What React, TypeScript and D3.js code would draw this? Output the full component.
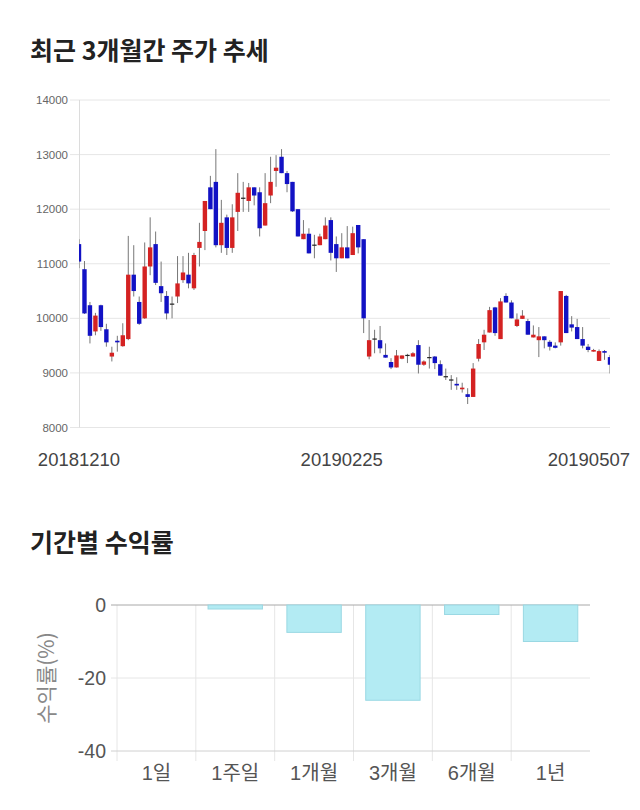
import React from 'react';
import * as d3 from 'd3';

// price data, one entry per trading day (2018-12-10 .. 2019-05-07)
const opens = [
  11360, 10900, 10240, 9760, 10240, 9800, 9300, 9590, 9490, 9620,
  10800, 10300, 10000, 10950, 11360, 10590, 10410, 10260, 10400, 10700,
  10800, 10550, 11290, 11600, 12400, 12500, 11340, 11850, 11290, 11950,
  12200, 12150, 12400, 12310, 11700, 12250, 12700, 12960, 12660, 12500,
  12000, 11450, 11550, 11340, 11340, 11450, 11800, 11360, 11100, 11300,
  11160, 11710, 11450, 9300, 9620, 9600, 9330, 9200, 9100, 9260,
  9320, 9300, 9510, 9150, 9280, 9300, 9160, 8930, 8870, 8800,
  8700, 8610, 8560, 9260, 9560, 9740, 10200, 9620, 10410, 10290,
  9860, 9990, 9950, 9650, 9600, 9670, 9570, 9500, 9560, 10410,
  9890, 9840, 9620, 9480, 9390, 9220, 9400, 9290,
];
const highs = [
  11450, 11050, 10300, 10100, 10250, 9900, 9480, 9680, 9910, 11510,
  11340, 10400, 11390, 11850, 11590, 11040, 10500, 10400, 11140, 11140,
  11200, 11200, 11750, 12150, 12610, 13100, 12170, 11900, 12090, 12660,
  12500, 12480, 12400, 12400, 12660, 12960, 12990, 13100, 12700, 12500,
  12000, 11800, 11650, 11530, 11550, 11850, 11850, 11500, 11560, 11690,
  11680, 11710, 11450, 9970, 9790, 9860, 9540, 9270, 9420, 9320,
  9350, 9380, 9600, 9230, 9480, 9310, 9230, 9080, 8960, 8920,
  8820, 8720, 9180, 9620, 9790, 10210, 10210, 10370, 10460, 10330,
  10090, 10150, 9990, 9870, 9840, 9670, 9600, 9560, 10500, 10430,
  10040, 9990, 9840, 9530, 9440, 9430, 9420, 9330,
];
const lows = [
  10920, 10080, 9540, 9690, 9770, 9480, 9210, 9390, 9480, 9600,
  10400, 9880, 9990, 10790, 10610, 10300, 9980, 10000, 10280, 10650,
  10550, 10520, 10950, 11250, 12000, 11300, 11200, 11160, 11200, 11600,
  11950, 11950, 12070, 11500, 11700, 12110, 12410, 12660, 12310, 11950,
  11500, 11450, 11190, 11100, 11340, 11450, 11060, 10850, 11100, 11100,
  11160, 11190, 9730, 9250, 9360, 9360, 9280, 9070, 9100, 9250,
  9180, 9300, 8990, 9130, 9080, 9070, 8950, 8870, 8690, 8690,
  8640, 8430, 8560, 9210, 9420, 9740, 9680, 9620, 10290, 10000,
  9840, 9990, 9700, 9650, 9290, 9450, 9410, 9450, 9500, 9730,
  9760, 9620, 9450, 9380, 9390, 9220, 9240, 8990,
];
const closes = [
  11040, 10090, 9680, 10050, 9840, 9560, 9370, 9560, 9690, 10800,
  10500, 9900, 10950, 11300, 10650, 10460, 10090, 10260, 10640, 10840,
  10640, 11160, 11400, 12150, 12000, 11340, 11750, 11290, 11850, 12300,
  12200, 12400, 12250, 11650, 12110, 12500, 12760, 12660, 12460, 11960,
  11500, 11550, 11190, 11340, 11500, 11700, 11200, 11100, 11300, 11100,
  11560, 11300, 10000, 9600, 9620, 9450, 9280, 9100, 9320, 9320,
  9320, 9360, 9150, 9210, 9280, 9180, 8950, 8930, 8870, 8770,
  8730, 8560, 9080, 9530, 9700, 10150, 9730, 10310, 10290, 10000,
  9980, 10050, 9700, 9700, 9670, 9600, 9480, 9460, 10500, 9730,
  9830, 9620, 9500, 9420, 9420, 9400, 9370, 9150,
];
const priceTicks = [8000, 9000, 10000, 11000, 12000, 13000, 14000];
const dateLabels = ['20181210', '20190225', '20190507'];
const dateLabelDays = [0, 48, 97];

// period returns (%)
const periods = ['1일', '1주일', '1개월', '3개월', '6개월', '1년'];
const returns = [0, -1.1, -7.5, -26.1, -2.6, -10.0];
const returnTicks = [0, -20, -40];

const UP = '#d42222';
const DOWN = '#1212c4';
const NUM_FONT = '"Liberation Sans", Arial, "Noto Sans CJK KR", sans-serif';
const KR_FONT = '"Noto Sans CJK KR", "Liberation Sans", sans-serif';

function CandleChart() {
  const n = opens.length;
  const x = d3.scalePoint<number>().domain(d3.range(n)).range([79, 610]);
  const y = d3.scaleLinear().domain([8000, 14000]).range([427.5, 100]);
  const bodyW = 4.4;

  return (
    <g>
      <defs>
        <clipPath id="plotClip">
          <rect x={79} y={90} width={531} height={345} />
        </clipPath>
      </defs>
      {priceTicks.map((t) => (
        <g key={t}>
          <line x1={70} x2={610} y1={y(t)} y2={y(t)} stroke="#e6e6e6" />
          <text x={68} y={y(t)} dy="0.35em" textAnchor="end" fontSize={11.5} fill="#666" fontFamily={NUM_FONT}>
            {t}
          </text>
        </g>
      ))}
      <line x1={79.5} x2={79.5} y1={y(14000)} y2={y(8000)} stroke="#dcdcdc" />
      <g clipPath="url(#plotClip)">
        {d3.range(n).map((i) => {
          const cx = x(i)!;
          const o = opens[i], c = closes[i];
          const top = y(Math.max(o, c));
          const bot = y(Math.min(o, c));
          const doji = o === c;
          return (
            <g key={i}>
              <line x1={cx} x2={cx} y1={y(highs[i])} y2={y(lows[i])} stroke="#777" strokeWidth={1} />
              {doji ? (
                <line x1={cx - bodyW / 2} x2={cx + bodyW / 2} y1={top} y2={top} stroke="#222" strokeWidth={1.2} />
              ) : (
                <rect x={cx - bodyW / 2} y={top} width={bodyW} height={Math.max(1, bot - top)} fill={c > o ? UP : DOWN} />
              )}
            </g>
          );
        })}
      </g>
      {dateLabels.map((d, k) => {
        const last = k === dateLabels.length - 1;
        return (
          <text
            key={d}
            x={last ? 630 : x(dateLabelDays[k])!}
            y={466}
            textAnchor={last ? 'end' : 'middle'}
            fontSize={18.5}
            fill="#444"
            fontFamily={NUM_FONT}
          >
            {d}
          </text>
        );
      })}
    </g>
  );
}

function ReturnChart() {
  const xb = d3.scaleBand().domain(periods).range([117, 590]).paddingInner(0.31).paddingOuter(0.155);
  const yb = d3.scaleLinear().domain([-40, 0]).range([751, 605]);
  const step = xb.step();
  const half = (step * xb.paddingInner()) / 2;

  return (
    <g>
      {periods.map((p) => (
        <line key={p} x1={xb(p)! - half} x2={xb(p)! - half} y1={yb(0)} y2={yb(-40) + 10} stroke="#e6e6e6" />
      ))}
      {returnTicks.map((t) => (
        <g key={t}>
          <line x1={111} x2={590} y1={yb(t)} y2={yb(t)} stroke={t === 0 ? '#a8a8a8' : t === -40 ? '#d0d0d0' : '#e6e6e6'} />
          <text x={106} y={yb(t)} dy="0.36em" textAnchor="end" fontSize={19.5} fill="#555" fontFamily={NUM_FONT}>
            {t}
          </text>
        </g>
      ))}
      {periods.map((p, i) =>
        returns[i] !== 0 ? (
          <rect
            key={p}
            x={xb(p)}
            y={yb(Math.max(0, returns[i]))}
            width={xb.bandwidth()}
            height={Math.abs(yb(returns[i]) - yb(0))}
            fill="#b3ebf3"
            stroke="#9ad8e3"
          />
        ) : null
      )}
      {periods.map((p) => (
        <text key={p} x={xb(p)! + xb.bandwidth() / 2} y={780} textAnchor="middle" fontSize={20} fill="#555" fontFamily={NUM_FONT}>
          {p}
        </text>
      ))}
      <text
        transform={`translate(45,${(yb(0) + yb(-40)) / 2}) rotate(-90)`}
        textAnchor="middle"
        dominantBaseline="central"
        fontSize={21}
        fill="#888"
        fontFamily={KR_FONT}
      >
        수익률(%)
      </text>
    </g>
  );
}

export default function App() {
  return (
    <div style={{ position: 'absolute', left: 0, top: 0 }}>
      <svg width={640} height={810} viewBox="0 0 640 810" style={{ display: 'block', background: '#fff' }}>
        <text x={30} y={60} fontSize={25} fontWeight={700} fill="#222" fontFamily={KR_FONT}>
          최근 3개월간 주가 추세
        </text>
        <CandleChart />
        <text x={30} y={552} fontSize={25} fontWeight={700} fill="#222" fontFamily={KR_FONT}>
          기간별 수익률
        </text>
        <ReturnChart />
      </svg>
    </div>
  );
}
